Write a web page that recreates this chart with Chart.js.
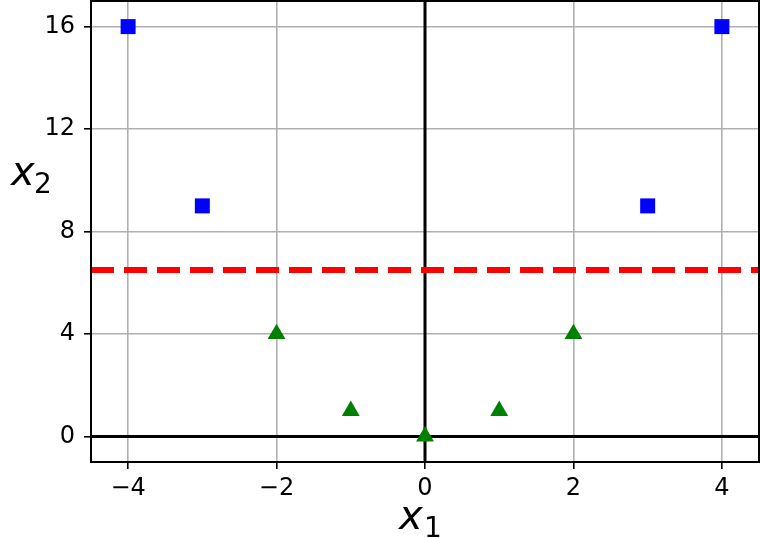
<!DOCTYPE html>
<html>
<head>
<meta charset="utf-8">
<script src="https://cdn.jsdelivr.net/npm/chart.js@4"></script>
<style>
html,body{margin:0;padding:0;background:#fff;}
#wrap{width:760px;height:538px;position:relative;}
</style>
</head>
<body>
<div id="wrap"><canvas id="c" width="760" height="538"></canvas></div>
<script>
const squareX = [-4, -3, 3, 4];
const squareY = [16, 9, 9, 16];
const triX = [-2, -1, 0, 1, 2];
const triY = [4, 1, 0, 1, 4];
const boundaryY = 6.5;
const xRange = [-4.5, 4.5];
const yRange = [-1, 17];
const xTicks = [-4, -2, 0, 2, 4];
const yTicks = [0, 4, 8, 12, 16];

const toPts = (xs, ys) => xs.map((x, i) => ({x: x, y: ys[i]}));

const noPad = s => { s.paddingTop = 0; s.paddingBottom = 0; s.paddingLeft = 0; s.paddingRight = 0; };

const frame = {
  id: 'frame',
  afterDraw(chart) {
    const {ctx, chartArea: a} = chart;
    ctx.save();
    ctx.strokeStyle = '#000';
    ctx.lineWidth = 2;
    ctx.strokeRect(a.left, a.top, a.right - a.left, a.bottom - a.top);
    ctx.fillStyle = '#000';
    ctx.textBaseline = 'alphabetic';
    ctx.textAlign = 'left';
    ctx.font = 'italic 40px "DejaVu Sans"';
    ctx.fillText('x', 399, 529);
    ctx.fillText('x', 11, 185);
    ctx.font = '28px "DejaVu Sans"';
    ctx.fillText('1', 424, 537);
    ctx.fillText('2', 34, 193);
    ctx.restore();
  }
};

new Chart(document.getElementById('c'), {
  type: 'scatter',
  data: {
    datasets: [
      {
        data: [{x: xRange[0], y: 0}, {x: xRange[1], y: 0}],
        showLine: true, borderColor: '#000', borderWidth: 3, pointRadius: 0, order: 3
      },
      {
        data: [{x: 0, y: yRange[0]}, {x: 0, y: yRange[1]}],
        showLine: true, borderColor: '#000', borderWidth: 3, pointRadius: 0, order: 3
      },
      {
        data: [{x: xRange[0], y: boundaryY}, {x: xRange[1], y: boundaryY}],
        showLine: true, borderColor: '#ff0000', borderWidth: 6, borderDash: [23, 10],
        pointRadius: 0, order: 2
      },
      {
        data: toPts(squareX, squareY),
        pointStyle: 'rect', pointRadius: 10.6, backgroundColor: '#0000ff',
        borderColor: '#0000ff', borderWidth: 0, order: 1
      },
      {
        data: toPts(triX, triY),
        pointStyle: 'triangle', pointRadius: 10.3, backgroundColor: '#008000',
        borderColor: '#008000', borderWidth: 0, order: 0
      }
    ]
  },
  options: {
    responsive: false,
    animation: false,
    layout: {autoPadding: false, padding: {top: 1, right: 1, left: 0, bottom: 0}},
    plugins: {legend: {display: false}, tooltip: {enabled: false}},
    scales: {
      x: {
        type: 'linear', min: xRange[0], max: xRange[1],
        afterBuildTicks: s => { s.ticks = xTicks.map(v => ({value: v})); },
        afterFit: s => { s.height = 76; noPad(s); },
        grid: {color: '#b0b0b0', lineWidth: 1.6, tickColor: '#000', tickLength: 7, tickWidth: 1.6},
        border: {display: false},
        ticks: {
          color: '#000', padding: 5, maxRotation: 0,
          font: {family: '"DejaVu Sans"', size: 24},
          callback: v => (v < 0 ? '\u2212' + Math.abs(v) : String(v))
        }
      },
      y: {
        type: 'linear', min: yRange[0], max: yRange[1],
        afterBuildTicks: s => { s.ticks = yTicks.map(v => ({value: v})); },
        afterFit: s => { s.width = 91; noPad(s); },
        grid: {color: '#b0b0b0', lineWidth: 1.6, tickColor: '#000', tickLength: 7, tickWidth: 1.6},
        border: {display: false},
        ticks: {
          color: '#000', padding: 9,
          font: {family: '"DejaVu Sans"', size: 24},
          callback: v => String(v)
        }
      }
    }
  },
  plugins: [frame]
});
</script>
</body>
</html>
